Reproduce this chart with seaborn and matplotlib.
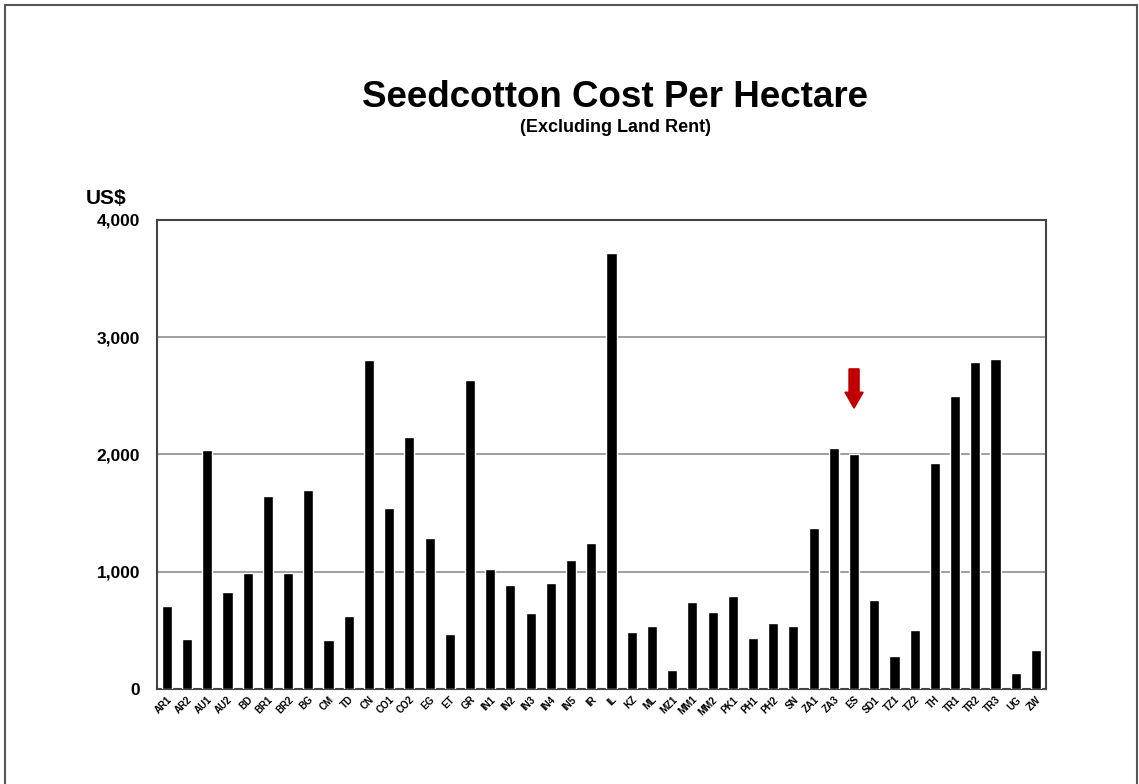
import numpy as np
import matplotlib
matplotlib.use("Agg")
import matplotlib.pyplot as plt
import pandas as pd
import seaborn as sns
from matplotlib.patches import Rectangle

# country codes as printed on the x axis
codes = ["AR1", "AR2", "AU1", "AU2", "BD", "BR1", "BR2", "BG", "CM", "TD",
         "CN", "CO1", "CO2", "EG", "ET", "GR", "IN1", "IN2", "IN3", "IN4",
         "IN5", "IR", "IL", "KZ", "ML", "MZ1", "MM1", "MM2", "PK1", "PH1",
         "PH2", "SN", "ZA1", "ZA3", "ES", "SD1", "TZ1", "TZ2", "TH", "TR1",
         "TR2", "TR3", "UG", "ZW"]
# cost per hectare, US$
cost = [711, 426, 2038, 824, 986, 1649, 992, 1697, 418, 625,
        2806, 1541, 2149, 1285, 469, 2633, 1023, 887, 651, 901,
        1100, 1242, 3721, 489, 534, 159, 745, 660, 796, 435,
        563, 534, 1370, 2055, 2007, 756, 279, 500, 1925, 2496,
        2789, 2812, 139, 330]
highlight = "ES"
yticks = [0, 1000, 2000, 3000, 4000]

df = pd.DataFrame({"code": codes, "cost": cost})

sns.set_theme(style="white")
plt.rcParams["font.family"] = ["Liberation Sans", "DejaVu Sans"]
plt.rcParams["font.weight"] = "bold"
plt.rcParams["text.color"] = "black"
plt.rcParams["xtick.color"] = "black"
plt.rcParams["ytick.color"] = "black"

fig = plt.figure(figsize=(11.39, 7.84), dpi=100)
ax = fig.add_axes([0.1376, 0.1212, 0.7808, 0.5982])

sns.barplot(data=df, x="code", y="cost", color="black", width=0.5,
            saturation=1, ax=ax, zorder=3)

ax.set_xlim(-0.5, len(codes) - 0.5)
ax.set_ylim(0, 4000)
ax.set_yticks(yticks)
ax.set_yticklabels([f"{v:,}" for v in yticks], fontsize=12.5, fontweight="bold")
ax.set_xticks(range(len(codes)))
ax.set_xticklabels(codes, rotation=45, ha="right", rotation_mode="anchor",
                   fontsize=7, fontweight="bold")
ax.tick_params(axis="y", length=0, pad=12, labelcolor="black")
ax.tick_params(axis="x", length=0, pad=4, labelcolor="black")
ax.set_xlabel("")
ax.set_ylabel("")
ax.yaxis.grid(True, color="#8c8c8c", linewidth=1.2, zorder=0)
for s in ax.spines.values():
    s.set_visible(True)
    s.set_color("#444444")
    s.set_linewidth(1.5)

# red marker arrow above the highlighted bar
i = codes.index(highlight)
ax.arrow(i, 2730, 0, -335, width=0.5, head_width=0.9, head_length=136,
         length_includes_head=True, color="#c00000", zorder=4, clip_on=False)

fig.text(0.54, 0.876, "Seedcotton Cost Per Hectare", ha="center", va="center",
         fontsize=26.5, fontweight="bold", color="black")
fig.text(0.54, 0.838, "(Excluding Land Rent)", ha="center", va="center",
         fontsize=13, fontweight="bold", color="black")
fig.text(0.075, 0.747, "US$", ha="left", va="center", fontsize=15,
         fontweight="bold", color="black")

# page frame
fig.patches.append(Rectangle((5 / 1139, -0.05), 1132 / 1139, 1 - 5 / 784 + 0.05,
                             transform=fig.transFigure, fill=False,
                             edgecolor="#555555", linewidth=1.5))

fig.savefig("out.png", dpi=100)
